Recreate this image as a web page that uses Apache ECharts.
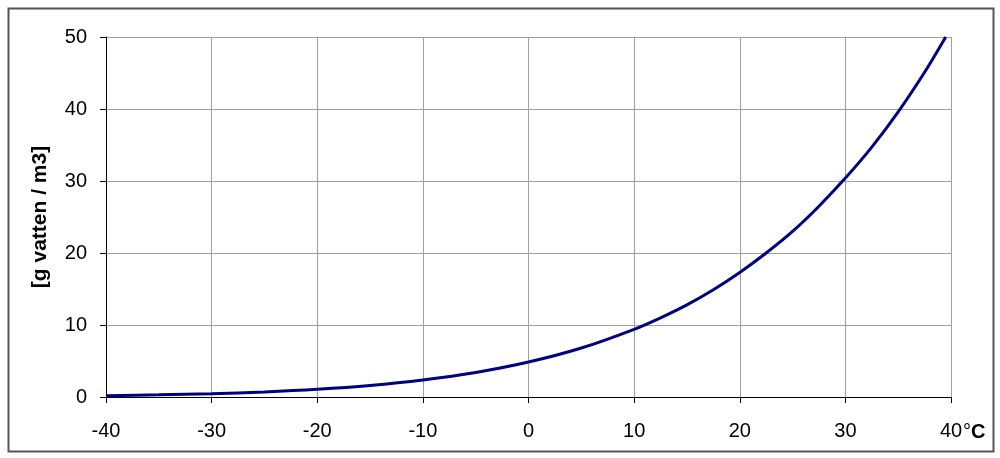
<!DOCTYPE html>
<html>
<head>
<meta charset="utf-8">
<script src="https://cdn.jsdelivr.net/npm/echarts@6/dist/echarts.min.js"></script>
<style>html,body{margin:0;padding:0;background:#fff}#c{width:1000px;height:458px}</style>
</head>
<body>
<div id="c"></div>
<script>
const temps = [-40,-35,-30,-25,-20,-15,-10,-5,0,5,10,12.5,15,17.5,20,22.5,25,27.5,30,32.5,35,37.5,39.5];
const vapour = [0.18,0.3,0.45,0.7,1.07,1.6,2.36,3.4,4.85,6.8,9.4,11.0,12.8,14.9,17.3,20.0,23.0,26.5,30.4,34.7,39.6,45.1,50.0];
const yTitle = '[g vatten / m3]';
const unit = '°C';

const chart = echarts.init(document.getElementById('c'));
const font = '"Liberation Sans", Arial, sans-serif';
chart.setOption({
  animation: false,
  backgroundColor: '#fff',
  grid: { left: 106, right: 49, top: 37, bottom: 61, containLabel: false },
  graphic: [{
    type: 'rect', left: 6, top: 6, silent: true,
    shape: { width: 985, height: 443 },
    style: { fill: 'none', stroke: '#555', lineWidth: 2 }
  }],
  xAxis: {
    type: 'value', min: -40, max: 40, interval: 10,
    axisLine: { show: true, onZero: false, lineStyle: { color: '#000', width: 1 } },
    axisTick: { show: true, length: 6, lineStyle: { color: '#000' } },
    splitLine: { show: true, lineStyle: { color: '#a0a0a0', width: 1 } },
    axisLabel: { color: '#000', fontSize: 20, fontFamily: font, margin: 24, showMaxLabel: true, showMinLabel: true },
    name: '{d|°}{c|C}',
    nameLocation: 'end', nameGap: 12,
    nameMoveOverlap: false,
    nameTextStyle: {
      verticalAlign: 'middle', padding: [70, 0, 0, 0],
      rich: {
        d: { fontSize: 20, fontFamily: font, color: '#000' },
        c: { fontSize: 20, fontFamily: font, color: '#000', fontWeight: 'bold' }
      }
    }
  },
  yAxis: {
    type: 'value', min: 0, max: 50, interval: 10,
    axisLine: { show: true, onZero: false, lineStyle: { color: '#000', width: 1 } },
    axisTick: { show: true, length: 6, lineStyle: { color: '#000' } },
    splitLine: { show: true, lineStyle: { color: '#a0a0a0', width: 1 } },
    axisLabel: { color: '#000', fontSize: 20, fontFamily: font, margin: 19 },
    name: yTitle, nameLocation: 'middle', nameGap: 55,
    nameTextStyle: { color: '#000', fontSize: 21, fontWeight: 'bold', fontFamily: font }
  },
  series: [{
    type: 'line', smooth: 0.3, symbol: 'none',
    data: temps.map((t, i) => [t, vapour[i]]),
    lineStyle: { color: '#000080', width: 3 }
  }]
});
</script>
</body>
</html>
